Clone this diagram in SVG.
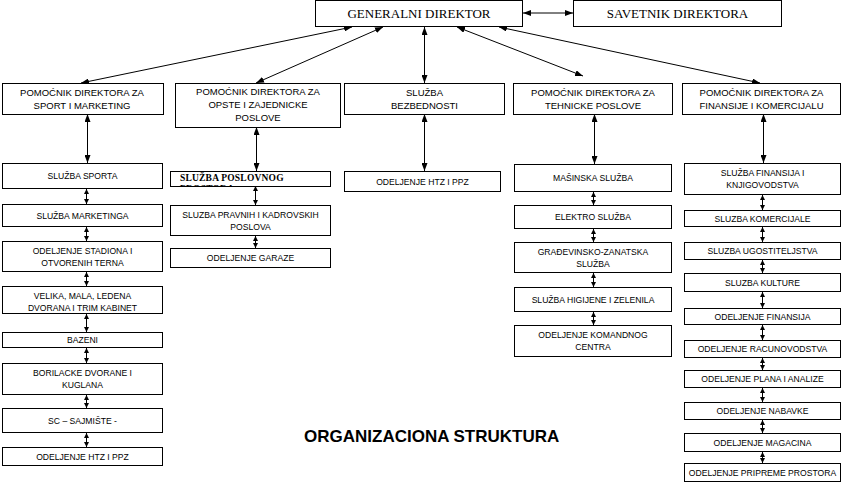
<svg xmlns="http://www.w3.org/2000/svg" width="842" height="483" viewBox="0 0 842 483">
<style>
rect.b{fill:#fff;stroke:#000;stroke-width:1}
.t{font-family:"Liberation Sans",Arial,sans-serif;font-size:8.6px;fill:#000;text-anchor:middle}
.h{font-family:"Liberation Sans",Arial,sans-serif;font-size:9.5px;fill:#000;text-anchor:middle}
.g{font-family:"Liberation Serif","Times New Roman",serif;font-size:13px;fill:#000;text-anchor:middle}
.p{font-family:"Liberation Serif","Times New Roman",serif;font-size:9.5px;font-weight:bold;letter-spacing:0.2px;fill:#000}
.ttl{font-family:"Liberation Sans",Arial,sans-serif;font-size:17px;font-weight:bold;fill:#000}
#conn line{stroke:#000;stroke-width:1;fill:none}
#conn .l{marker-start:url(#ah);marker-end:url(#ah)}
#conn .s{marker-start:url(#sh);marker-end:url(#sh)}
</style>
<defs>
<marker id="ah" markerUnits="userSpaceOnUse" markerWidth="8" markerHeight="6" refX="8" refY="3" orient="auto-start-reverse"><path d="M0,0 L8,3 L0,6 z" fill="#000"/></marker>
<marker id="sh" markerUnits="userSpaceOnUse" markerWidth="5" markerHeight="5" refX="5" refY="2.5" orient="auto-start-reverse"><path d="M0,0 L5,2.5 L0,5 z" fill="#000"/></marker>
<clipPath id="cp"><rect x="170" y="171" width="161" height="15.5"/></clipPath>
</defs>
<rect x="0" y="0" width="842" height="483" fill="#fff"/>

<g id="conn">
<line class="l" x1="523" y1="13" x2="573" y2="13"/>
<line class="l" x1="352" y1="27" x2="81" y2="83"/>
<line class="l" x1="383" y1="27" x2="256" y2="83"/>
<line class="l" x1="424.5" y1="27" x2="424.5" y2="83"/>
<line class="l" x1="457" y1="27" x2="583" y2="76"/>
<line class="l" x1="499" y1="27" x2="760" y2="83"/>
<line class="l" x1="87.5" y1="114" x2="87.5" y2="163"/>
<line class="l" x1="256.5" y1="127" x2="256.5" y2="171"/>
<line class="l" x1="424.5" y1="114" x2="424.5" y2="171"/>
<line class="l" x1="594.5" y1="114" x2="594.5" y2="164"/>
<line class="l" x1="763.5" y1="114" x2="763.5" y2="163"/>
<line class="s" x1="86.5" y1="189" x2="86.5" y2="204"/>
<line class="s" x1="86.5" y1="227" x2="86.5" y2="241"/>
<line class="s" x1="86.5" y1="272" x2="86.5" y2="286"/>
<line class="s" x1="86.5" y1="314" x2="86.5" y2="332"/>
<line class="s" x1="86.5" y1="348" x2="86.5" y2="363"/>
<line class="s" x1="86.5" y1="395" x2="86.5" y2="408"/>
<line class="s" x1="86.5" y1="433" x2="86.5" y2="447"/>
<line class="s" x1="255.5" y1="186" x2="255.5" y2="205"/>
<line class="s" x1="255.5" y1="236" x2="255.5" y2="248"/>
<line class="s" x1="593.5" y1="192" x2="593.5" y2="205"/>
<line class="s" x1="593.5" y1="229" x2="593.5" y2="242"/>
<line class="s" x1="593.5" y1="273" x2="593.5" y2="287"/>
<line class="s" x1="593.5" y1="312" x2="593.5" y2="325"/>
<line class="s" x1="762.5" y1="195" x2="762.5" y2="210"/>
<line class="s" x1="762.5" y1="227" x2="762.5" y2="242"/>
<line class="s" x1="762.5" y1="260" x2="762.5" y2="273"/>
<line class="s" x1="762.5" y1="292" x2="762.5" y2="308"/>
<line class="s" x1="762.5" y1="325" x2="762.5" y2="340"/>
<line class="s" x1="762.5" y1="358" x2="762.5" y2="370"/>
<line class="s" x1="762.5" y1="388" x2="762.5" y2="402"/>
<line class="s" x1="762.5" y1="420" x2="762.5" y2="433"/>
<line class="s" x1="762.5" y1="452" x2="762.5" y2="463"/>
</g>

<g id="gd"><rect class="b" x="315.5" y="0.5" width="207" height="26"/><text class="g" x="419" y="18">GENERALNI DIREKTOR</text></g>
<g id="savetnik"><rect class="b" x="573.5" y="0.5" width="208" height="26"/><text class="g" x="677.5" y="18">SAVETNIK DIREKTORA</text></g>

<g id="pd-sport"><rect class="b" x="2.5" y="83.5" width="161" height="31"/><text class="h" x="82" y="95.5">POMOĆNIK DIREKTORA ZA</text><text class="h" x="82" y="108.5">SPORT I MARKETING</text></g>
<g id="pd-opste"><rect class="b" x="175.5" y="83.5" width="165" height="44"/><text class="h" x="258" y="95">POMOĆNIK DIREKTORA ZA</text><text class="h" x="258" y="108">OPSTE I ZAJEDNICKE</text><text class="h" x="258" y="121">POSLOVE</text></g>
<g id="bezbednost"><rect class="b" x="344.5" y="83.5" width="160" height="31"/><text class="h" x="424.5" y="95.5">SLUŽBA</text><text class="h" x="424.5" y="108.5">BEZBEDNOSTI</text></g>
<g id="pd-tehnicke"><rect class="b" x="513.5" y="83.5" width="159" height="31"/><text class="h" x="593" y="95.5">POMOĆNIK DIREKTORA ZA</text><text class="h" x="593" y="108.5">TEHNICKE POSLOVE</text></g>
<g id="pd-finansije"><rect class="b" x="682.5" y="83.5" width="158" height="31"/><text class="h" x="761.5" y="95.5">POMOĆNIK DIREKTORA ZA</text><text class="h" x="761.5" y="108.5">FINANSIJE I KOMERCIJALU</text></g>

<g id="c1-1"><rect class="b" x="2.5" y="163.5" width="160" height="25"/><text class="t" x="82.5" y="179.1">SLUŽBA SPORTA</text></g>
<g id="c1-2"><rect class="b" x="2.5" y="204.5" width="160" height="22"/><text class="t" x="82.5" y="218.6">SLUŽBA MARKETINGA</text></g>
<g id="c1-3"><rect class="b" x="2.5" y="241.5" width="160" height="30"/><text class="t" x="82.5" y="253.6">ODELJENJE STADIONA I</text><text class="t" x="82.5" y="265.6">OTVORENIH TERNA</text></g>
<g id="c1-4"><rect class="b" x="2.5" y="286.5" width="160" height="27"/><text class="t" x="82.5" y="299">VELIKA, MALA, LEDENA</text><text class="t" x="82.5" y="310.5">DVORANA I TRIM KABINET</text></g>
<g id="c1-5"><rect class="b" x="2.5" y="332.5" width="160" height="15"/><text class="t" x="82.5" y="343.2">BAZENI</text></g>
<g id="c1-6"><rect class="b" x="2.5" y="363.5" width="160" height="31"/><text class="t" x="82.5" y="376">BORILACKE DVORANE I</text><text class="t" x="82.5" y="388">KUGLANA</text></g>
<g id="c1-7"><rect class="b" x="2.5" y="408.5" width="160" height="24"/><text class="t" x="82.5" y="423.6">SC – SAJMIŠTE -</text></g>
<g id="c1-8"><rect class="b" x="2.5" y="447.5" width="160" height="18"/><text class="t" x="82.5" y="459.6">ODELJENJE HTZ I PPZ</text></g>

<g id="c2-1"><rect class="b" x="170.5" y="171.5" width="160" height="15"/><g clip-path="url(#cp)"><text class="p" x="180" y="181">SLUŽBA POSLOVNOG</text><text class="p" x="180" y="192">PROSTORA</text></g></g>
<g id="c2-2"><rect class="b" x="170.5" y="205.5" width="160" height="30"/><text class="t" x="250.5" y="217.6">SLUZBA PRAVNIH I KADROVSKIH</text><text class="t" x="250.5" y="229.6">POSLOVA</text></g>
<g id="c2-3"><rect class="b" x="170.5" y="248.5" width="160" height="19"/><text class="t" x="250.5" y="261.1">ODELJENJE GARAZE</text></g>

<g id="c3-1"><rect class="b" x="344.5" y="171.5" width="156" height="20"/><text class="t" x="422.5" y="184.6">ODELJENJE HTZ I PPZ</text></g>

<g id="c4-1"><rect class="b" x="514.5" y="164.5" width="157" height="27"/><text class="t" x="593" y="181.1">MAŠINSKA SLUŽBA</text></g>
<g id="c4-2"><rect class="b" x="514.5" y="205.5" width="157" height="23"/><text class="t" x="593" y="220.1">ELEKTRO SLUŽBA</text></g>
<g id="c4-3"><rect class="b" x="514.5" y="242.5" width="157" height="30"/><text class="t" x="593" y="254.6">GRAĐEVINSKO-ZANATSKA</text><text class="t" x="593" y="266.6">SLUŽBA</text></g>
<g id="c4-4"><rect class="b" x="514.5" y="287.5" width="157" height="24"/><text class="t" x="593" y="302.6">SLUŽBA HIGIJENE I ZELENILA</text></g>
<g id="c4-5"><rect class="b" x="514.5" y="325.5" width="157" height="31"/><text class="t" x="593" y="338.1">ODELJENJE KOMANDNOG</text><text class="t" x="593" y="350.1">CENTRA</text></g>

<g id="c5-1"><rect class="b" x="684.5" y="163.5" width="156" height="31"/><text class="t" x="762.5" y="176.1">SLUŽBA FINANSIJA I</text><text class="t" x="762.5" y="188.1">KNJIGOVODSTVA</text></g>
<g id="c5-2"><rect class="b" x="684.5" y="210.5" width="156" height="16"/><text class="t" x="762.5" y="221.6">SLUZBA KOMERCIJALE</text></g>
<g id="c5-3"><rect class="b" x="684.5" y="242.5" width="156" height="17"/><text class="t" x="762.5" y="254.1">SLUZBA UGOSTITELJSTVA</text></g>
<g id="c5-4"><rect class="b" x="684.5" y="273.5" width="156" height="18"/><text class="t" x="762.5" y="285.6">SLUZBA KULTURE</text></g>
<g id="c5-5"><rect class="b" x="684.5" y="308.5" width="156" height="16"/><text class="t" x="762.5" y="319.6">ODELJENJE FINANSIJA</text></g>
<g id="c5-6"><rect class="b" x="684.5" y="340.5" width="156" height="17"/><text class="t" x="762.5" y="352.1">ODELJENJE RACUNOVODSTVA</text></g>
<g id="c5-7"><rect class="b" x="684.5" y="370.5" width="156" height="17"/><text class="t" x="762.5" y="382.1">ODELJENJE PLANA I ANALIZE</text></g>
<g id="c5-8"><rect class="b" x="684.5" y="402.5" width="156" height="17"/><text class="t" x="762.5" y="414.1">ODELJENJE NABAVKE</text></g>
<g id="c5-9"><rect class="b" x="684.5" y="433.5" width="156" height="18"/><text class="t" x="762.5" y="445.6">ODELJENJE MAGACINA</text></g>
<g id="c5-10"><rect class="b" x="684.5" y="463.5" width="156" height="18"/><text class="t" x="762.5" y="475.6">ODELJENJE PRIPREME PROSTORA</text></g>

<text class="ttl" x="304" y="442">ORGANIZACIONA STRUKTURA</text>
</svg>
